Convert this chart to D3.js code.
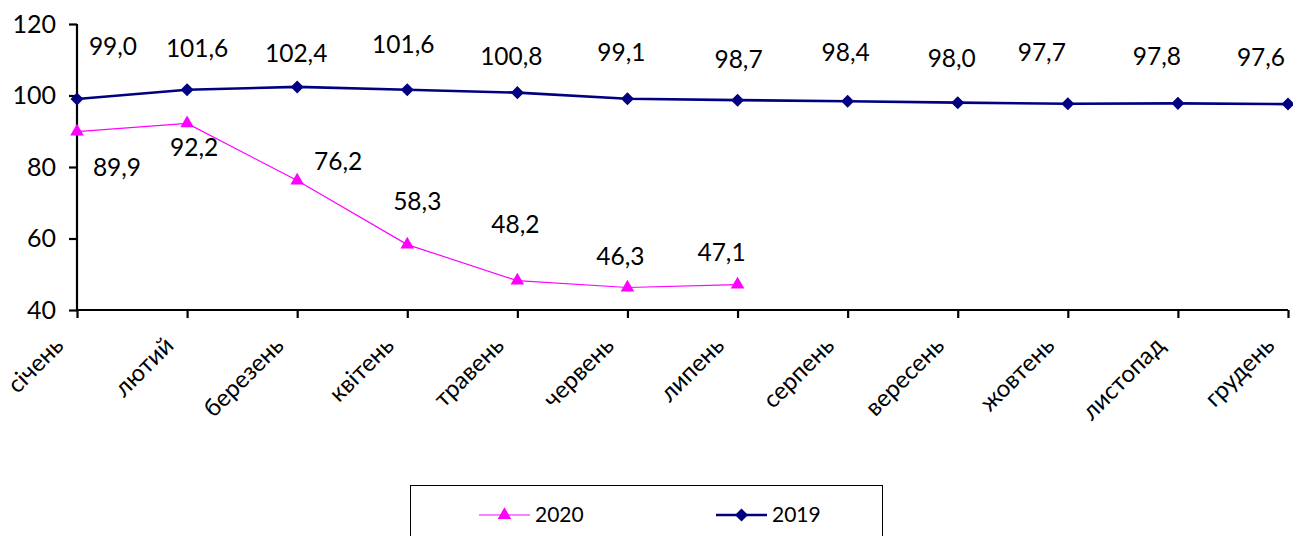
<!DOCTYPE html>
<html>
<head>
<meta charset="utf-8">
<script src="https://cdn.jsdelivr.net/npm/d3@7"></script>
<style>
  html, body { margin: 0; padding: 0; background: #fff; }
  svg { display: block; font-family: Lato, "Open Sans", sans-serif; }
</style>
</head>
<body>
<svg id="chart" width="1293" height="536"></svg>
<script>
// ---- data ----
const months = ["січень", "лютий", "березень", "квітень", "травень", "червень", "липень", "серпень", "вересень", "жовтень", "листопад", "грудень"];
const values2019 = [99.0, 101.6, 102.4, 101.6, 100.8, 99.1, 98.7, 98.4, 98.0, 97.7, 97.8, 97.6];
const values2020 = [89.9, 92.2, 76.2, 58.3, 48.2, 46.3, 47.1];
const yTicks = [40, 60, 80, 100, 120];
const seriesNames = ["2020", "2019"];

// ---- layout (label offsets, px) ----
const labelOff2019 = [[36, -53], [10, -41], [-1, -33], [-4, -45], [-6, -36], [-6, -46], [1, -41], [-2, -49], [-6, -44], [-26, -51], [-21, -47], [-27, -47]];
const labelOff2020 = [[40, 36], [7, 24], [41, -19], [10, -43], [-2, -56], [-7, -31], [-16, -32]];

const svg = d3.select("#chart");
const x = d3.scalePoint().domain(months).range([77, 1288]).padding(0);
const y = d3.scaleLinear().domain([40, 120]).range([310, 24]);
const fmt = v => v.toFixed(1).replace(".", ",");

// axes
const yAxis = svg.append("g").attr("transform", "translate(77,0)")
  .call(d3.axisLeft(y).tickValues(yTicks).tickSize(8).tickPadding(13).tickFormat(d3.format("d")));
const xAxis = svg.append("g").attr("transform", "translate(0,310)")
  .call(d3.axisBottom(x).tickSize(8).tickFormat(""));
[yAxis, xAxis].forEach(g => {
  g.select(".domain").attr("stroke", "#000").attr("stroke-width", 2.2);
  g.selectAll(".tick line").attr("stroke", "#000").attr("stroke-width", 2.2);
});
yAxis.select(".domain").attr("d", `M0,${y(120)}V${y(40)}`);
xAxis.select(".domain").attr("d", `M${x(months[0])},0H${x(months[11])}`);
yAxis.selectAll(".tick text").attr("font-size", 25).attr("fill", "#000").attr("font-family", "Lato, sans-serif");

// month labels
svg.append("g").selectAll("text").data(months).join("text")
  .attr("transform", d => `translate(${x(d) - 12},347) rotate(-45)`)
  .attr("text-anchor", "end")
  .attr("font-size", 24)
  .attr("fill", "#000")
  .text(d => d);

// lines
const line = d3.line().x((d, i) => x(months[i])).y(d => y(d));
svg.append("path").datum(values2020).attr("d", line)
  .attr("fill", "none").attr("stroke", "#FF00FF").attr("stroke-width", 1.2);
svg.append("path").datum(values2019).attr("d", line)
  .attr("fill", "none").attr("stroke", "#000080").attr("stroke-width", 2.6);

// markers
const tri = d3.symbol().type(d3.symbolTriangle).size(80);
const dia = d3.symbol().type(d3.symbolSquare).size(85);
svg.append("g").selectAll("path").data(values2020).join("path")
  .attr("d", tri)
  .attr("transform", (d, i) => `translate(${x(months[i])},${y(d)})`)
  .attr("fill", "#FF00FF");
svg.append("g").selectAll("path").data(values2019).join("path")
  .attr("d", dia)
  .attr("transform", (d, i) => `translate(${x(months[i])},${y(d)}) rotate(45)`)
  .attr("fill", "#000080");

// data labels
svg.append("g").selectAll("text").data(values2019).join("text")
  .attr("x", (d, i) => x(months[i]) + labelOff2019[i][0])
  .attr("y", (d, i) => y(d) + labelOff2019[i][1])
  .attr("dy", "0.35em")
  .attr("text-anchor", "middle")
  .attr("font-size", 24.5).attr("fill", "#000")
  .text(fmt);
svg.append("g").selectAll("text").data(values2020).join("text")
  .attr("x", (d, i) => x(months[i]) + labelOff2020[i][0])
  .attr("y", (d, i) => y(d) + labelOff2020[i][1])
  .attr("dy", "0.35em")
  .attr("text-anchor", "middle")
  .attr("font-size", 24.5).attr("fill", "#000")
  .text(fmt);

// legend
const lg = svg.append("g");
lg.append("rect").attr("x", 410.5).attr("y", 485.5).attr("width", 472).attr("height", 60)
  .attr("fill", "#fff").attr("stroke", "#000").attr("stroke-width", 1);
const legendItems = [
  { name: seriesNames[0], color: "#FF00FF", width: 1.2, sym: tri, rot: 0, x0: 479 },
  { name: seriesNames[1], color: "#000080", width: 2.6, sym: dia, rot: 45, x0: 716 }
];
legendItems.forEach(it => {
  lg.append("line").attr("x1", it.x0).attr("x2", it.x0 + 51).attr("y1", 515).attr("y2", 515)
    .attr("stroke", it.color).attr("stroke-width", it.width);
  lg.append("path").attr("d", it.sym).attr("fill", it.color)
    .attr("transform", `translate(${it.x0 + 25.5},515) rotate(${it.rot})`);
  lg.append("text").attr("x", it.x0 + 56).attr("y", 515).attr("dy", "0.35em")
    .attr("font-size", 21).attr("fill", "#000").text(it.name);
});
</script>
</body>
</html>
